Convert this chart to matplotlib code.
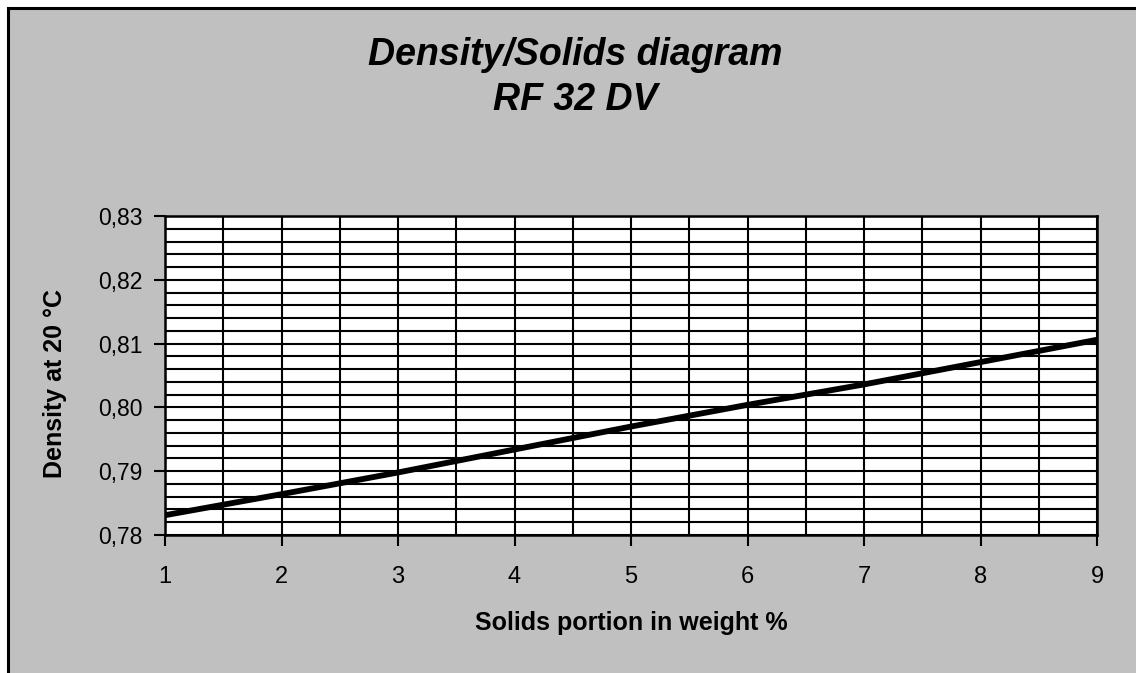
import matplotlib
matplotlib.use("Agg")
import matplotlib.pyplot as plt
from matplotlib.patches import Rectangle
from matplotlib.ticker import MultipleLocator, FuncFormatter

# values
solids_pct = [1, 2, 3, 4, 5, 6, 7, 8, 9]
density_20c = [0.7831, 0.7864, 0.7898, 0.7934, 0.7970, 0.8004, 0.8036, 0.8071, 0.8106]

title_lines = ["Density/Solids diagram", "RF 32 DV"]
x_label = "Solids portion in weight %"
y_label = "Density at 20 \u00b0C"

W, H = 1136, 673
fig = plt.figure(figsize=(W / 100, H / 100), dpi=100, facecolor="white")
plt.rcParams["font.family"] = ["Liberation Sans", "DejaVu Sans"]

# grey chart frame, only top and left edges visible in the picture
fig.add_artist(Rectangle((8 / W, -0.05), 1.1, 1 - 8 / H + 0.05,
                         transform=fig.transFigure, facecolor="#c0c0c0",
                         edgecolor="black", linewidth=2.2, zorder=-10))

ax = fig.add_axes([165 / W, 1 - 535 / H, (1097 - 165) / W, (535 - 216) / H])
ax.set_facecolor("white")

ax.plot(solids_pct, density_20c, color="black", lw=4.2, solid_capstyle="butt", zorder=5)

ax.set_xlim(1, 9)
ax.set_ylim(0.78, 0.83)
ax.xaxis.set_major_locator(MultipleLocator(1))
ax.xaxis.set_minor_locator(MultipleLocator(0.5))
ax.yaxis.set_major_locator(MultipleLocator(0.01))
ax.yaxis.set_minor_locator(MultipleLocator(0.002))
ax.yaxis.set_major_formatter(FuncFormatter(lambda v, p: f"{v:.2f}".replace(".", ",")))

ax.grid(which="both", color="black", lw=1.5)
ax.set_axisbelow(True)
ax.tick_params(which="major", direction="out", length=8, width=1.5, color="black",
               labelsize=16.5)
ax.tick_params(which="minor", length=0)
ax.tick_params(axis="x", pad=14, labelsize=17)
ax.tick_params(axis="y", pad=8)
for s in ax.spines.values():
    s.set_color("black")
    s.set_linewidth(1.8)

ax.set_xlabel(x_label, fontsize=18, fontweight="bold", va="center")
ax.set_ylabel(y_label, fontsize=18, fontweight="bold", va="center")
ax.xaxis.set_label_coords(0.5, (535 - 623) / 319)
ax.yaxis.set_label_coords((55 - 165) / 932, (535 - 383) / 319)

fig.text(575 / W, 1 - 55 / H, title_lines[0], ha="center", va="center",
         fontsize=27, fontweight="bold", style="italic")
fig.text(575 / W, 1 - 100 / H, title_lines[1], ha="center", va="center",
         fontsize=27, fontweight="bold", style="italic")

fig.savefig("out.png", dpi=100, facecolor=fig.get_facecolor())
